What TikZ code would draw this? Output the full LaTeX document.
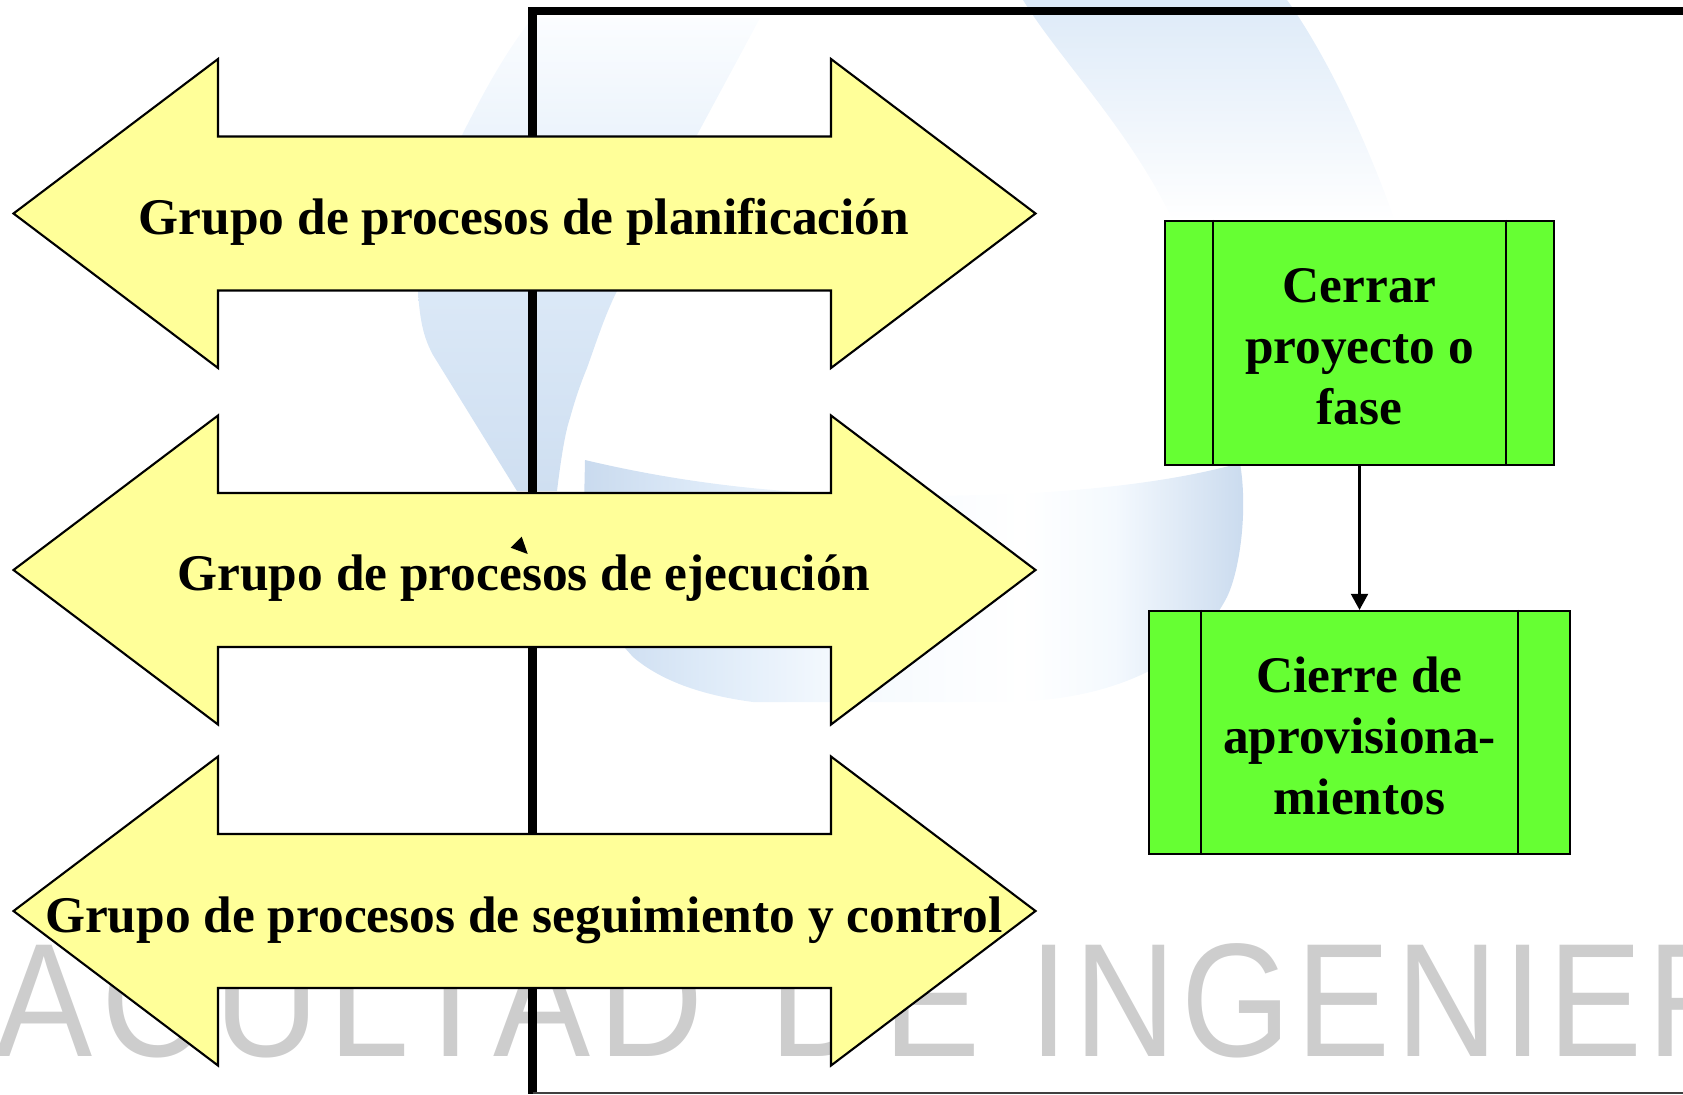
\documentclass[tikz,border=0pt]{standalone}
\usepackage{fontspec}
\setmainfont{Liberation Serif}
\newfontfamily\markfont[FakeStretch=0.9,LetterSpace=5.2]{Liberation Sans}
\newfontfamily\marktight[FakeStretch=0.87,LetterSpace=3.5]{Liberation Sans}
\usepackage{xcolor}
\usetikzlibrary{arrows.meta}
\definecolor{arrowyellow}{HTML}{FFFF99}
\definecolor{boxgreen}{HTML}{66FF33}
\definecolor{swoosh}{HTML}{C9DAEE}
\definecolor{swooshlow}{HTML}{CFDFF1}
\definecolor{swooshmid}{HTML}{DDEAF8}
\definecolor{swooshtop}{HTML}{F4F9FE}
\definecolor{swooshtip}{HTML}{FBFDFF}
\definecolor{markgray}{HTML}{CDCDCD}
\pgfdeclarehorizontalshading{swooshfade}{100bp}{color(0bp)=(swoosh); color(25bp)=(swoosh); color(34bp)=(swooshmid); color(44bp)=(swooshtop); color(58bp)=(white); color(65bp)=(swooshtop); color(75bp)=(swoosh); color(100bp)=(swoosh)}
\tikzset{
    procbox/.style={draw, fill=boxgreen, line width=0.6pt, inner sep=0pt},
    boxlabel/.style={font=\fontsize{14.6}{17.4}\selectfont\bfseries, align=center, inner sep=0pt, yshift=-0.035cm},
    grouplabel/.style={anchor=base, font=\fontsize{14.62}{18}\selectfont\bfseries},
}
\begin{document}
\begin{tikzpicture}[x=0.01cm,y=-0.01cm]
            \clip (0,0) rectangle (1683,1094);
            \useasboundingbox (0,0) rectangle (1683,1094);

            % Watermark swooshes
            \shade[top color=swooshmid, bottom color=white] (1023,0) .. controls (1060,60) and (1130,130) .. (1173,221) -- (1395,221) .. controls (1370,150) and (1330,60) .. (1287,0) -- cycle;
            \shade[top color=swooshtip, bottom color=swooshlow, middle color=swooshmid] (532,18) .. controls (500,60) and (480,100) .. (463,133) .. controls (440,190) and (425,250) .. (418,291) .. controls (420,325) and (425,340) .. (433,355) -- (517,491) -- (557,491) .. controls (562,450) and (566,430) .. (570,418) .. controls (575,400) and (580,385) .. (587,368) .. controls (597,340) and (605,315) .. (617,291) .. controls (650,220) and (700,130) .. (760,18) -- cycle;
            \shade[shading=swooshfade] (585,460) .. controls (720,492) and (850,500) .. (1011,494) .. controls (1100,490) and (1180,480) .. (1240,463) .. controls (1248,510) and (1240,570) .. (1227,597) .. controls (1200,650) and (1130,702) .. (1000,702) -- (753,702) .. controls (700,695) and (660,680) .. (633,657) -- (582,600) -- cycle;

            % Watermark text
            \node[anchor=base west, inner sep=0pt, text=markgray, font=\fontsize{46}{50}\markfont] (mark) at (-5,1056) {ACULTAD\hspace{0.17cm} DE {\marktight INGENIER}};

            % Thick frame
            \coordinate (frametop) at (1683,11);
            \coordinate (framecorner) at (532.5,11);
            \coordinate (framefoot) at (532.5,1094);
            \coordinate (frameend) at (1683,1093);
            \draw[line width=0.083cm] (frametop) -- (framecorner) -- (framefoot);
            \draw[line width=0.6pt, black!75] (framefoot |- frameend) -- (frameend);

            % Double arrows
            \foreach \name/\cy/\lab/\base in {plan/213.5/Grupo de procesos de planificación/234, ejec/570/Grupo de procesos de ejecución/590, segu/911/Grupo de procesos de seguimiento y control/932} {
                \draw[fill=arrowyellow, line width=0.6pt, line join=miter] (13.5,\cy) -- (218,\cy-154.5) -- (218,\cy-77) -- (831,\cy-77) -- (831,\cy-154.5) -- (1035.5,\cy) -- (831,\cy+154.5) -- (831,\cy+77) -- (218,\cy+77) -- (218,\cy+154.5) -- cycle;
                \node[grouplabel] (\name) at (524,\base) {\lab};
            }

            % Stray arrow tip
            \fill (521.7,536.7) -- (510.7,547.7) -- (527.7,554) -- cycle;

            % Closing boxes
            \node[procbox, minimum width=3.89cm, minimum height=2.44cm, label={[boxlabel]center:Cerrar\\proyecto o\\fase}] (cerrar) at (1359.5,343) {};
            \node[procbox, minimum width=4.21cm, minimum height=2.43cm, label={[boxlabel]center:Cierre de\\aprovisiona-\\mientos}] (cierre) at (1359.5,732.5) {};
            \draw[line width=0.6pt] ([xshift=0.49cm]cerrar.north west) -- ([xshift=0.49cm]cerrar.south west);
            \draw[line width=0.6pt] ([xshift=-0.49cm]cerrar.north east) -- ([xshift=-0.49cm]cerrar.south east);
            \draw[line width=0.6pt] ([xshift=0.53cm]cierre.north west) -- ([xshift=0.53cm]cierre.south west);
            \draw[line width=0.6pt] ([xshift=-0.53cm]cierre.north east) -- ([xshift=-0.53cm]cierre.south east);
            \draw[-{Triangle[length=0.16cm,width=0.17cm]}, line width=0.6pt] (cerrar) -- (cierre);
        \end{tikzpicture}
\end{document}
